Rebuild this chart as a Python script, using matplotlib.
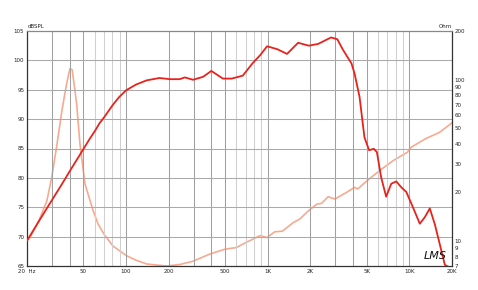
import matplotlib
matplotlib.use("Agg")
import matplotlib.pyplot as plt
from matplotlib.ticker import NullLocator, FixedLocator, FixedFormatter

# SPL (dB)
spl_f = [20, 24.8, 29.1, 35, 40.2, 45, 50, 55.6, 60.4, 65, 70, 80, 89, 100, 118, 140, 172,
         204, 239, 260, 297, 350, 400, 483, 557, 667, 782, 886, 990, 1170, 1370,
         1640, 1950, 2270, 2800, 3100, 3400, 3900, 4100, 4450, 4820, 5200, 5600,
         5900, 6320, 6860, 7450, 8080, 8770, 9520, 10600, 11850, 12850, 13940,
         15130, 16400, 17800, 20000]
spl_db = [69.3, 73.0, 75.7, 78.8, 81.2, 83.1, 84.9, 86.7, 88.0, 89.3, 90.3, 92.3, 93.7, 94.9,
          95.9, 96.6, 97.0, 96.8, 96.8, 97.1, 96.7, 97.2, 98.2, 96.9, 96.9, 97.4,
          99.5, 100.9, 102.4, 101.9, 101.1, 103.0, 102.5, 102.8, 103.9, 103.6, 101.8,
          99.5, 97.8, 93.8, 86.9, 84.7, 84.95, 84.4, 80.1, 76.8, 79.0, 79.4, 78.4,
          77.6, 75.0, 72.2, 73.3, 74.8, 72.1, 68.7, 65.2, 64.5]

# impedance (Ohm)
imp_f = [20, 21, 24.2, 27.6, 29.9, 32.6, 35.3, 38.1, 40.2, 41.7, 44.8, 47.3, 51.3,
         58.6, 63.6, 70, 81, 101, 118, 140, 193, 240, 298, 390, 500, 600, 705, 885,
         990, 1120, 1270, 1514, 1690, 1940, 2220, 2400, 2670, 2984, 3605, 4100, 4320,
         5050, 6170, 7700, 9700, 10300, 13000, 16400, 20000]
imp_ohm = [10.1, 10.5, 13.3, 17.7, 24.8, 40, 64.5, 94.6, 117, 115, 71, 40, 22.6,
           15.4, 12.7, 11.0, 9.3, 8.1, 7.6, 7.2, 7.0, 7.15, 7.5, 8.3, 8.9, 9.1, 9.8,
           10.8, 10.5, 11.4, 11.5, 13.0, 13.7, 15.4, 16.9, 17.1, 18.8, 18.2, 20.0,
           21.5, 21.0, 23.7, 27.3, 31.5, 35.5, 38.1, 43, 47.2, 54]

x_ticks = [20, 50, 100, 200, 500, 1000, 2000, 5000, 10000, 20000]
x_labels = ["20  Hz", "50", "100", "200", "500", "1K", "2K", "5K", "10K", "20K"]
db_ticks = [65, 70, 75, 80, 85, 90, 95, 100, 105]
ohm_ticks = [7, 8, 9, 10, 20, 30, 40, 50, 60, 70, 80, 90, 100, 200]

fig = plt.figure(figsize=(4.78, 2.90), dpi=100)
ax = fig.add_axes([27/478, 1-266/290, 425/478, 235/290])
ax.set_xscale("log")
ax.set_xlim(20, 20000)
ax.set_ylim(65, 105)

# grid lines
for dec in [10, 100, 1000, 10000]:
    for m in range(1, 10):
        f = m*dec
        if f <= 20 or f >= 20000:
            continue
        c = "#a0a0a0" if m <= 5 else "#d0d0d0"
        ax.axvline(f, color=c, lw=0.75, zorder=0)
for d in db_ticks[1:-1]:
    ax.axhline(d, color="#aaaaaa", lw=0.75, zorder=0)

ax.set_xticks(x_ticks)
ax.set_xticklabels(x_labels)
ax.xaxis.set_minor_locator(NullLocator())
ax.set_yticks(db_ticks)
ax.set_yticklabels([str(d) for d in db_ticks])
ax.tick_params(length=0, labelsize=4, pad=2, colors="#222222")
for s in ax.spines.values():
    s.set_color("#333333")
    s.set_linewidth(0.9)
ax.spines["top"].set_color("#888888")

ax2 = ax.twinx()
ax2.set_yscale("log")
ax2.set_ylim(7, 200)
ax2.yaxis.set_major_locator(FixedLocator(ohm_ticks))
ax2.yaxis.set_major_formatter(FixedFormatter([str(t) for t in ohm_ticks]))
ax2.yaxis.set_minor_locator(NullLocator())
ax2.tick_params(length=0, labelsize=4, pad=2, colors="#222222")
for s in ax2.spines.values():
    s.set_visible(False)

ax2.plot(imp_f, imp_ohm, color="#f8aa90", lw=1.2, zorder=2)
ax.plot(spl_f, spl_db, color="#e8231d", lw=1.3, zorder=3)
ax.set_zorder(ax2.get_zorder() + 1)
ax.patch.set_visible(False)

fig.text(28/478, 1-26/290, "dBSPL", fontsize=4, color="#222222", va="center")
fig.text(452/478, 1-26/290, "Ohm", fontsize=4, color="#222222", va="center", ha="right")
fig.text(424/478, 1-256/290, "LMS", fontsize=8, style="italic", color="#111111",
         family="DejaVu Sans", va="center")

fig.savefig("out.png", dpi=100)
